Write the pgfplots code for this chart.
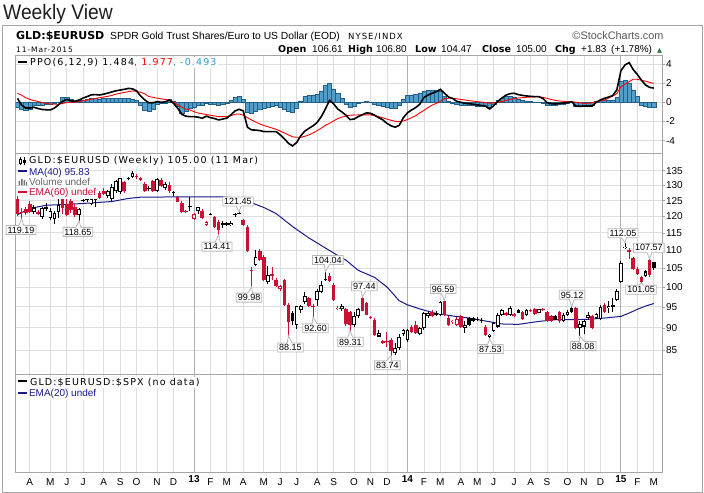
\documentclass[border=0pt]{standalone}
\usepackage{fontspec}
\setmainfont{Liberation Sans}
\newfontfamily\vf{DejaVu Sans}
\newfontfamily\pf{DejaVu Sans}[LetterSpace=12]
\usepackage{pgfplots}
\usepackage{pgfplotstable}
\pgfplotsset{compat=1.18}
\usetikzlibrary{shapes.callouts}
\definecolor{cred}{RGB}{204,16,51}
\definecolor{navy}{RGB}{25,25,140}
\definecolor{hfill}{RGB}{80,158,202}
\definecolor{hdraw}{RGB}{35,95,135}
\definecolor{gridc}{RGB}{222,222,222}
\definecolor{yearc}{RGB}{175,175,175}
\definecolor{framec}{RGB}{165,165,165}
\definecolor{lblc}{RGB}{185,185,185}
\definecolor{ppoblue}{RGB}{51,153,204}
\definecolor{titlec}{RGB}{30,30,30}
\definecolor{upgreen}{RGB}{40,120,60}

% weekly candles: k open high low close
\pgfplotstableread{
k o h l c
4 121.5 123.5 120.8 122.8
6 119.8 122.8 119.2 122.5
8 119.5 122.5 119.0 121.8
9 119.3 121.8 117.6 121.2
10 121.5 125.8 119.5 123.6
15 120.3 122.5 118.65 122.2
18 123.8 126.0 123.5 125.5
22 126.5 128.5 126.0 128.2
23 125.5 130.5 125.0 129.5
24 128.0 131.8 127.5 131.5
25 127.8 132.6 127.3 132.4
28 133.0 134.9 132.6 134.1
34 128.2 132.6 127.8 132.3
36 129.0 131.0 128.5 130.6
44 121.8 123.0 120.8 122.9
52 117.4 118.5 117.0 118.1
58 105.9 110.1 105.5 108.2
61 101.2 105.6 100.8 103.1
68 90.6 95.3 89.8 95.2
69 94.2 95.5 93.6 95.3
70 96.3 98.6 95.8 97.7
73 96.7 99.6 95.3 99.1
74 98.8 101.5 98.5 100.5
79 94.4 95.8 94.0 95.3
82 90.7 93.8 90.3 92.7
83 92.7 94.8 92.3 94.4
88 88.0 89.6 87.8 88.9
92 84.3 86.5 84.0 85.4
93 85.4 88.6 85.0 88.0
94 88.5 89.7 88.2 89.5
95 87.2 89.8 86.8 89.5
98 88.6 90.2 88.3 89.9
99 89.9 93.8 89.6 93.5
100 92.7 93.9 92.4 93.5
103 93.1 96.5 92.8 96.3
109 89.9 91.5 88.8 90.7
115 88.0 88.5 87.53 88.3
116 89.3 91.3 89.0 91.1
117 90.3 93.4 90.0 93.1
118 93.1 94.5 92.9 94.3
120 93.1 95.1 92.9 94.7
124 93.1 94.5 92.8 94.3
127 93.6 94.6 93.4 94.4
133 91.5 93.4 91.3 93.1
134 93.1 94.2 92.9 93.8
137 89.9 91.5 88.08 90.9
138 90.3 91.8 88.5 91.5
139 92.3 93.8 92.0 93.1
141 92.3 93.6 92.0 93.2
142 92.0 95.5 91.8 94.9
144 94.8 96.5 93.5 95.2
146 96.7 99.5 96.4 99.1
147 101.4 107.0 101.0 106.4
148 110.6 112.05 110.2 111.0
153 102.9 104.5 102.5 104.1
}\tup
\pgfplotstableread{
k o h l c
0 125.6 126.5 120.0 120.8
1 121.5 122.5 119.19 121.0
2 122.2 123.0 120.5 121.0
3 123.8 125.0 121.0 121.5
5 121.5 122.0 120.5 120.8
11 125.8 126.2 120.8 122.6
12 124.0 126.0 120.0 120.5
13 125.0 126.5 121.0 122.0
14 123.0 123.8 119.8 120.5
20 127.5 128.0 125.5 125.9
21 128.3 129.0 126.9 127.2
26 131.0 131.5 127.5 128.0
29 133.3 133.8 132.3 132.9
30 132.6 133.0 131.5 132.0
31 130.5 131.0 127.8 128.2
33 131.5 132.0 127.7 128.0
35 132.0 132.5 129.5 129.9
37 130.3 131.0 127.5 128.0
39 126.1 126.6 124.4 124.7
40 124.3 124.8 121.2 121.5
41 121.7 122.0 121.0 121.3
45 121.8 122.2 119.2 119.5
48 119.8 120.2 116.5 116.9
49 118.4 118.8 114.41 115.9
55 118.9 119.3 117.2 117.4
56 116.9 117.4 109.6 109.7
57 104.5 105.2 99.98 104.1
59 109.8 110.3 107.0 107.3
60 108.2 108.5 101.5 101.7
62 103.4 105.3 101.9 103.0
63 101.9 102.3 100.0 100.3
65 101.9 102.2 95.3 95.5
66 95.5 96.0 88.15 91.4
71 97.2 97.5 95.0 95.3
72 95.3 95.8 92.6 94.9
76 102.9 103.6 101.2 101.5
77 100.5 101.0 96.5 96.7
80 94.4 94.7 90.5 90.9
81 93.8 94.0 89.31 90.7
84 97.1 97.44 93.9 94.1
85 95.9 96.3 93.0 93.1
86 92.6 92.8 92.0 92.3
87 91.9 92.2 88.2 88.4
89 86.9 87.3 86.3 86.6
90 87.0 89.1 85.7 86.7
91 87.2 87.6 83.74 84.8
96 90.3 90.7 88.9 89.1
97 90.7 91.5 88.6 88.8
101 93.8 94.2 92.5 92.8
104 96.4 96.59 92.8 93.0
105 92.3 92.8 90.4 90.7
108 92.7 93.0 90.0 90.3
114 90.3 90.6 88.1 88.4
119 93.4 93.7 92.8 93.1
123 93.8 94.1 91.8 92.0
125 94.3 94.6 93.7 94.0
126 94.4 94.7 93.0 93.2
128 94.5 94.7 93.9 94.2
129 93.8 94.0 91.3 91.5
130 92.7 93.1 91.3 91.5
132 93.8 94.1 91.2 91.5
136 94.7 95.0 89.7 89.9
140 92.7 93.1 89.7 89.9
143 95.5 96.0 93.5 93.8
149 109.9 110.6 107.5 109.6
150 107.7 108.2 104.5 104.7
151 104.7 105.2 103.2 103.4
152 102.6 103.0 101.05 101.3
154 107.3 107.57 102.6 103.17
}\tdn
\pgfplotstableread{
k o h l c
7 123.0 124.2 121.8 122.3
16 125.3 125.8 124.5 125.0
17 125.4 125.8 124.7 125.1
19 125.6 126.4 122.8 125.3
27 132.6 133.0 131.7 132.3
32 129.3 129.7 128.3 128.9
38 127.8 128.2 126.6 127.4
42 123.3 126.1 121.8 122.8
47 120.9 121.1 120.3 120.6
50 117.9 118.6 116.5 117.4
51 117.9 118.3 117.0 117.5
53 120.8 121.1 119.9 120.5
54 121.2 121.45 120.6 120.9
67 93.6 94.0 90.7 91.5
75 102.2 104.04 101.5 101.9
102 93.5 94.0 92.8 93.1
110 92.3 92.6 90.4 90.7
111 92.3 92.6 91.4 91.5
112 92.1 92.5 91.6 91.8
113 91.9 92.4 91.2 91.5
122 94.3 94.6 93.4 93.6
131 92.7 93.0 91.8 91.9
135 94.7 95.12 93.4 93.8
145 95.4 97.1 93.8 95.0
155 106.61 106.8 104.47 105.00
}\tbf
\pgfplotstableread{
k o h l c
43 119.3 121.2 119.0 120.9
46 117.4 118.5 117.2 118.4
64 99.4 100.4 99.0 100.2
78 94.4 95.3 94.2 94.7
106 91.3 91.9 91.0 91.7
107 90.7 92.5 90.5 92.1
121 92.7 93.4 92.5 93.2
}\trh
% MA(40)
\pgfplotstableread{
k v
0 120.5
3 122.5
7 123.5
15 124.0
23 124.7
27 125.7
30 126.1
38 126.2
50 126.2
53 125.9
57 124.3
60 122.8
63 120.9
67 116.9
71 113.5
75 110.6
78 108.5
80 107.2
83 104.4
87 102.5
90 100.0
93 96.5
95 95.5
98 94.5
102 93.4
106 92.8
110 92.3
114 91.6
118 90.9
122 90.8
127 91.5
131 91.9
135 91.9
139 92.0
143 92.3
147 92.7
149 93.5
151 94.4
153 95.2
155 95.83
}\tma
% PPO(6,12,9): ppo, signal, histogram
\pgfplotstableread{
k p s h
0 0.41 0.94 -0.5
1 -0.3 0.75 -0.75
2 -0.6 0.48 -0.8
3 -0.6 0.3 -0.75
4 -0.52 0.18 -0.3
5 -0.65 0.09 -0.3
6 -0.75 -0.02 -0.28
7 -0.78 -0.12 -0.25
8 -0.8 -0.18 -0.22
9 -0.6 -0.2 -0.15
10 -0.25 -0.21 0.05
11 0.1 -0.12 0.5
12 0.3 -0.03 0.55
13 0.15 0.0 0.3
14 0.1 0.03 0.15
15 0.24 0.07 0.2
16 0.45 0.15 0.25
17 0.6 0.25 0.3
18 0.78 0.32 0.4
19 0.8 0.4 0.4
20 0.76 0.48 0.35
21 0.85 0.55 0.4
22 0.96 0.62 0.42
23 1.08 0.72 0.42
24 1.2 0.85 0.4
25 1.28 0.94 0.4
26 1.35 1.02 0.38
27 1.45 1.1 0.38
28 1.4 1.18 0.3
29 1.2 1.13 0.2
30 0.65 1.05 -0.35
31 0.25 0.88 -0.8
32 -0.05 0.6 -0.9
33 -0.05 0.52 -0.7
34 0.07 0.43 -0.2
35 0.0 0.36 -0.15
36 0.05 0.3 -0.1
37 0.24 0.24 0.3
38 -0.1 0.05 0.15
39 -0.6 -0.25 -0.4
40 -1.25 -0.5 -1.1
41 -1.45 -0.7 -0.9
42 -1.5 -0.8 -0.65
43 -1.5 -0.98 -0.55
44 -1.55 -1.12 -0.35
45 -1.67 -1.2 -0.35
46 -1.45 -1.28 -0.15
47 -1.6 -1.35 -0.2
48 -1.7 -1.43 -0.25
49 -1.84 -1.5 -0.3
50 -1.75 -1.5 -0.2
51 -1.65 -1.5 -0.1
52 -1.3 -1.4 0.2
53 -0.9 -1.25 0.5
54 -0.73 -1.22 0.6
55 -0.9 -1.35 0.3
56 -2.6 -1.6 -1.0
57 -2.88 -1.85 -1.1
58 -2.9 -2.05 -0.9
59 -2.95 -2.25 -0.75
60 -3.05 -2.42 -0.65
61 -3.06 -2.55 -0.5
62 -3.06 -2.68 -0.4
63 -3.06 -2.82 -0.35
64 -3.4 -3.0 -0.5
65 -3.8 -3.2 -0.7
66 -4.28 -3.4 -0.95
67 -4.55 -3.6 -1.0
68 -4.2 -3.65 -0.6
69 -3.5 -3.65 0.15
70 -3.0 -3.55 0.6
71 -2.72 -3.4 0.7
72 -2.45 -3.2 0.76
73 -2.1 -2.95 0.85
74 -1.5 -2.7 1.2
75 -0.7 -2.4 1.8
76 0.2 -2.2 2.0
77 -0.15 -1.95 1.4
78 -0.7 -1.7 0.9
79 -1.0 -1.55 0.4
80 -1.35 -1.45 -0.2
81 -1.8 -1.35 -0.5
82 -1.75 -1.33 -0.45
83 -1.5 -1.32 -0.15
84 -1.3 -1.32 0.05
85 -1.1 -1.32 0.12
86 -1.15 -1.32 0.05
87 -1.35 -1.4 -0.2
88 -1.6 -1.5 -0.35
89 -1.84 -1.62 -0.45
90 -2.2 -1.75 -0.55
91 -2.45 -1.88 -0.62
92 -2.6 -1.98 -0.62
93 -2.4 -2.02 -0.35
94 -1.6 -1.95 0.35
95 -1.1 -1.8 0.7
96 -0.8 -1.6 0.76
97 -0.55 -1.4 0.8
98 -0.2 -1.1 0.9
99 0.5 -0.85 1.15
100 0.75 -0.55 1.25
101 0.94 -0.3 1.28
102 1.1 -0.11 1.25
103 1.35 0.1 1.2
104 0.95 0.38 0.6
105 0.55 0.42 0.15
106 0.4 0.41 -0.05
107 0.1 0.36 -0.25
108 0.0 0.3 -0.3
109 -0.1 0.24 -0.35
110 -0.15 0.17 -0.35
111 -0.2 0.12 -0.35
112 -0.28 0.07 -0.38
113 -0.33 0.02 -0.4
114 -0.4 -0.03 -0.4
115 -0.7 -0.1 -0.5
116 -0.35 -0.05 -0.25
117 0.1 0.03 0.2
118 0.45 0.07 0.45
119 0.75 0.2 0.59
120 0.9 0.31 0.59
121 0.94 0.38 0.5
122 0.8 0.45 0.32
123 0.72 0.48 0.22
124 0.66 0.52 0.15
125 0.62 0.55 0.1
126 0.59 0.57 0.05
127 0.59 0.59 0.02
128 0.4 0.5 -0.08
129 -0.05 0.41 -0.35
130 -0.15 0.3 -0.35
131 -0.18 0.2 -0.3
132 -0.12 0.14 -0.25
133 -0.08 0.1 -0.18
134 -0.04 0.08 -0.1
135 0.07 0.07 0.0
136 -0.4 0.0 -0.4
137 -0.42 -0.05 -0.4
138 -0.39 -0.11 -0.35
139 -0.39 -0.1 -0.3
140 -0.39 -0.04 -0.3
141 0.0 0.05 0.1
142 0.25 0.15 0.2
143 0.41 0.24 0.24
144 0.55 0.45 0.2
145 0.7 0.65 0.25
146 1.3 0.9 0.5
147 3.3 1.63 2.2
148 3.9 1.9 2.3
149 4.14 2.15 2.0
150 3.4 2.4 1.3
151 2.9 2.4 0.6
152 2.3 2.3 -0.3
153 1.8 2.2 -0.45
154 1.55 2.07 -0.55
155 1.48 1.98 -0.49
}\tppo

\pgfplotsset{
  panel/.style={scale only axis, width=646.3bp, xmin=-0.44, xmax=157,
    axis line style={framec, line width=0.8bp},
    xtick={3,8,12,16,21,25,29,34,38,47,51,55,60,64,68,73,77,82,86,90,99,103,108,112,116,121,125,129,134,138,142,151,155},
    extra x ticks={43,95,147},
    xmajorgrids, grid style={gridc, line width=0.8bp},
    extra x tick style={grid style={yearc, line width=1bp}, major tick length=0pt},
    xtick style={draw=none},
    ytick pos=right, yticklabel pos=right,
    tick align=outside, major tick length=3bp,
    ytick style={framec, line width=0.6bp},
    ticklabel style={font=\fontsize{10bp}{10bp}\selectfont},
    yticklabel style={xshift=-2.5bp},
    /pgf/number format/assume math mode=true,
  },
  wick/.style={mark=none, draw opacity=0, forget plot, error bars/.cd, y dir=plus, y explicit, error mark=none, error bar style={draw opacity=1, #1, line width=1bp}},
  body/.style={mark=none, draw opacity=0, forget plot, error bars/.cd, y dir=plus, y explicit, error mark=none, error bar style={draw opacity=1, #1, line width=3.6bp}},
  inner/.style={mark=none, draw opacity=0, forget plot, error bars/.cd, y dir=plus, y explicit, error mark=none, error bar style={draw opacity=1, white, line width=1.8bp}},
}
\tikzset{
  lbl/.style={rectangle callout, draw=lblc, fill=white, line width=0.8bp, inner xsep=1.5bp, inner ysep=1.3bp, callout pointer width=5bp, font=\fontsize{9bp}{9bp}\selectfont, text height=6.4bp, text depth=0bp},
}

\begin{document}
\begin{tikzpicture}
\useasboundingbox (0,0) rectangle (704bp,493bp);
\fill[white] (0,0) rectangle (704bp,493bp);
\draw[framec, line width=0.8bp] (2bp,1bp) rectangle (702.5bp,468bp);
% header
\node[anchor=base west, inner sep=0, xscale=0.917, text=titlec, font=\fontsize{21bp}{21bp}\selectfont] at (3bp,473bp) {Weekly View};
\node[anchor=base west, inner sep=0, font=\vf\bfseries\fontsize{11bp}{11bp}\selectfont] at (16bp,453bp) {GLD:\$EURUSD};
\node[anchor=base west, inner sep=0, font=\fontsize{10.3bp}{10.3bp}\selectfont] at (110bp,453bp) {SPDR Gold Trust Shares/Euro to US Dollar (EOD)};
\node[anchor=base west, inner sep=0, font=\pf\fontsize{8.5bp}{8.5bp}\selectfont] at (348bp,453bp) {NYSE/INDX};
\node[anchor=base east, inner sep=0, text=black!65, font=\fontsize{10.9bp}{10.9bp}\selectfont] at (663.7bp,453bp) {©StockCharts.com};
\node[anchor=base west, inner sep=0, font=\pf\fontsize{7.5bp}{7.5bp}\selectfont] at (16bp,440.3bp) {11-Mar-2015};
\begin{scope}[every node/.style={anchor=base west, inner sep=0}]
\node[font=\vf\bfseries\fontsize{9.5bp}{9.5bp}\selectfont] at (278bp,440.3bp) {Open};
\node[font=\fontsize{10bp}{10bp}\selectfont] at (312bp,440.3bp) {106.61};
\node[font=\vf\bfseries\fontsize{9.5bp}{9.5bp}\selectfont] at (348bp,440.3bp) {High};
\node[font=\fontsize{10bp}{10bp}\selectfont] at (376bp,440.3bp) {106.80};
\node[font=\vf\bfseries\fontsize{9.5bp}{9.5bp}\selectfont] at (415bp,440.3bp) {Low};
\node[font=\fontsize{10bp}{10bp}\selectfont] at (441bp,440.3bp) {104.47};
\node[font=\vf\bfseries\fontsize{9.5bp}{9.5bp}\selectfont] at (482bp,440.3bp) {Close};
\node[font=\fontsize{10bp}{10bp}\selectfont] at (516bp,440.3bp) {105.00};
\node[font=\vf\bfseries\fontsize{9.5bp}{9.5bp}\selectfont] at (555bp,440.3bp) {Chg};
\node[font=\fontsize{10bp}{10bp}\selectfont] at (581bp,440.3bp) {+1.83};
\node[font=\fontsize{10bp}{10bp}\selectfont] at (611bp,440.3bp) {(+1.78\%)};
\node[font=\vf\fontsize{6.5bp}{6.5bp}\selectfont, text=upgreen] at (657bp,440.8bp) {▲};
\end{scope}

% PPO panel
\begin{axis}[panel, at={(15.7bp,437.3bp)}, anchor=north west, height=97.3bp,
  ymin=-5.29, ymax=4.86, ytick={-4,-2,0,2,4}, yticklabels={-4,-2,0,2,4},
  ymajorgrids, xticklabels={}, extra x tick labels={}]
\addplot[ybar, bar width=1, fill=hfill, draw=hdraw, line width=0.5bp, forget plot] table[x=k,y=h]{\tppo};
\addplot[red, line width=0.9bp, mark=none] table[x=k,y=s]{\tppo};
\addplot[black, line width=1.6bp, mark=none] table[x=k,y=p]{\tppo};
\end{axis}

% price panel
\begin{axis}[panel, at={(15.7bp,339.7bp)}, anchor=north west, height=221bp,
  ymode=log, ymin=79.83, ymax=141.25, clip mode=individual,
  ytick={85,90,95,100,105,110,115,120,125,130,135},
  yticklabels={85,90,95,100,105,110,115,120,125,130,135},
  minor y tick style={draw=none},
  ymajorgrids, xticklabels={}, extra x tick labels={}]
\addplot[navy, line width=1bp, mark=none] table[x=k,y=v]{\tma};
% wicks
\addplot[wick=black] table[x=k, y=l, y error expr=\thisrow{h}-\thisrow{l}]{\tup};
\addplot[wick=black] table[x=k, y=l, y error expr=\thisrow{h}-\thisrow{l}]{\tbf};
\addplot[wick=cred] table[x=k, y=l, y error expr=\thisrow{h}-\thisrow{l}]{\tdn};
\addplot[wick=cred] table[x=k, y=l, y error expr=\thisrow{h}-\thisrow{l}]{\trh};
% bodies
\addplot[body=black] table[x=k, y=o, y error expr=\thisrow{c}-\thisrow{o}]{\tup};
\addplot[inner] table[x=k, y expr=\thisrow{o}*1.0027, y error expr=\thisrow{c}*0.9973-\thisrow{o}*1.0027]{\tup};
\addplot[body=cred] table[x=k, y=o, y error expr=\thisrow{c}-\thisrow{o}]{\trh};
\addplot[inner] table[x=k, y expr=\thisrow{o}*1.0027, y error expr=\thisrow{c}*0.9973-\thisrow{o}*1.0027]{\trh};
\addplot[body=black] table[x=k, y=c, y error expr=\thisrow{o}-\thisrow{c}]{\tbf};
\addplot[body=cred] table[x=k, y=c, y error expr=\thisrow{o}-\thisrow{c}]{\tdn};
% high / low labels
\node[lbl, callout absolute pointer={(axis cs:1,119.19)}] at (axis cs:0.85,115.9) {119.19};
\node[lbl, callout absolute pointer={(axis cs:15,118.65)}] at (axis cs:14.7,115.3) {118.65};
\node[lbl, callout absolute pointer={(axis cs:49,114.41)}] at (axis cs:48.6,111.0) {114.41};
\node[lbl, callout absolute pointer={(axis cs:54,121.45)}] at (axis cs:53.7,124.7) {121.45};
\node[lbl, callout absolute pointer={(axis cs:57,99.98)}] at (axis cs:56.4,97.3) {99.98};
\node[lbl, callout absolute pointer={(axis cs:75,104.04)}] at (axis cs:75.6,107.2) {104.04};
\node[lbl, callout absolute pointer={(axis cs:72,92.6)}] at (axis cs:72.6,89.9) {92.60};
\node[lbl, callout absolute pointer={(axis cs:66,88.15)}] at (axis cs:66.5,85.55) {88.15};
\node[lbl, callout absolute pointer={(axis cs:81,89.31)}] at (axis cs:81.1,86.8) {89.31};
\node[lbl, callout absolute pointer={(axis cs:84,97.44)}] at (axis cs:84.5,100.2) {97.44};
\node[lbl, callout absolute pointer={(axis cs:91,83.74)}] at (axis cs:90.1,81.7) {83.74};
\node[lbl, callout absolute pointer={(axis cs:104,96.59)}] at (axis cs:103.7,99.5) {96.59};
\node[lbl, callout absolute pointer={(axis cs:115,87.53)}] at (axis cs:115.2,85.2) {87.53};
\node[lbl, callout absolute pointer={(axis cs:135,95.12)}] at (axis cs:135.1,98.0) {95.12};
\node[lbl, callout absolute pointer={(axis cs:137,88.08)}] at (axis cs:137.8,85.9) {88.08};
\node[lbl, callout absolute pointer={(axis cs:148,112.05)}] at (axis cs:147.5,114.9) {112.05};
\node[lbl, callout absolute pointer={(axis cs:152,101.05)}] at (axis cs:151.9,99.3) {101.05};
\node[lbl, callout absolute pointer={(axis cs:154,107.57)}] at (axis cs:153.8,110.7) {107.57};
\end{axis}

% bottom (empty) panel
\begin{axis}[panel, at={(15.7bp,118.7bp)}, anchor=north west, height=97.7bp,
  ymin=0, ymax=1, ytick=\empty,
  xticklabels={A,M,J,J,A,S,O,N,D,F,M,A,M,J,J,A,S,O,N,D,F,M,A,M,J,J,A,S,O,N,D,F,M},
  extra x tick labels={\textbf{13},\textbf{14},\textbf{15}}]
\end{axis}

% legends
\node[anchor=base west, inner sep=1bp, fill=white, font=\pf\fontsize{9.5bp}{9.5bp}\selectfont] at (29bp,427.5bp) {PPO(6,12,9) 1.484\textcolor{red}{, 1.977}\textcolor{ppoblue}{, -0.493}};
\draw[black, line width=2bp] (18bp,431.3bp) -- (26.5bp,431.3bp);

\node[anchor=base west, inner sep=1bp, fill=white, font=\pf\fontsize{9.5bp}{9.5bp}\selectfont] at (28bp,329bp) {GLD:\$EURUSD (Weekly) 105.00 (11 Mar)};
\fill[white] (17.5bp,327bp) rectangle (28bp,337bp);
\draw[black, line width=0.7bp] (20bp,336bp) -- (20bp,328bp) (24.5bp,336bp) -- (24.5bp,328bp);
\draw[black, line width=0.7bp, fill=white] (19bp,334bp) rectangle (21bp,330bp);
\draw[black, line width=0.7bp, fill=black] (23.5bp,333bp) rectangle (25.5bp,330.5bp);

\node[anchor=base west, inner sep=0.8bp, fill=white, text=navy, font=\fontsize{10bp}{10bp}\selectfont] at (28bp,317.7bp) {MA(40) 95.83};
\draw[navy, line width=2bp] (18bp,321.5bp) -- (26.5bp,321.5bp);

\node[anchor=base west, inner sep=0.8bp, fill=white, text=black!60, font=\fontsize{10bp}{10bp}\selectfont] at (28bp,307.3bp) {Volume undef};
\fill[black!55] (18.5bp,307.5bp) rectangle (20bp,312bp) (21bp,307.5bp) rectangle (22.5bp,314bp) (23.5bp,307.5bp) rectangle (25bp,313bp) (26bp,307.5bp) rectangle (27bp,311bp);

\node[anchor=base west, inner sep=0.8bp, fill=white, text=cred, font=\fontsize{10bp}{10bp}\selectfont] at (28bp,297bp) {EMA(60) undef};
\draw[cred, line width=2bp] (18bp,301bp) -- (26.5bp,301bp);

\node[anchor=base west, inner sep=0.8bp, fill=white, font=\pf\fontsize{9.5bp}{9.5bp}\selectfont] at (29bp,107.5bp) {GLD:\$EURUSD:\$SPX (no data)};
\draw[black, line width=2bp] (18bp,111.5bp) -- (26.5bp,111.5bp);
\node[anchor=base west, inner sep=0.8bp, fill=white, text=navy, font=\fontsize{10bp}{10bp}\selectfont] at (28bp,96bp) {EMA(20) undef};
\draw[navy, line width=2bp] (18bp,100bp) -- (26.5bp,100bp);
\end{tikzpicture}
\end{document}
